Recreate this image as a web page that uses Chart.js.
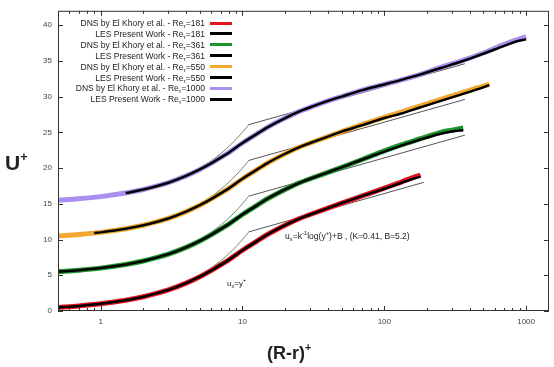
<!DOCTYPE html>
<html>
<head>
<meta charset="utf-8">
<script src="https://cdn.jsdelivr.net/npm/chart.js@4"></script>
<style>
  body { margin: 0; background: #fff; }
  #wrap { position: relative; width: 554px; height: 367px; font-family: "Liberation Sans", Arial, sans-serif; color: #222; }
  #chart { position: absolute; left: 0; top: 0; }
  .lab { position: absolute; white-space: nowrap; }
  .key { position: absolute; left: 0; width: 205px; text-align: right; font-size: 8.5px; line-height: 10px; }
  .swatch { position: absolute; left: 210px; width: 22px; }
  sub { font-size: 70%; vertical-align: -2px; line-height: 0; }
  sup { font-size: 70%; vertical-align: 4px; line-height: 0; }
</style>
</head>
<body>
<div id="wrap">
  <canvas id="chart" width="554" height="367"></canvas>
  <div id="legend"></div>
  <div class="lab" style="left:5px; top:152px; font-size:21px; font-weight:bold; line-height:22px;">U<sup style="font-size:60%; vertical-align:9px;">+</sup></div>
  <div class="lab" style="left:267px; top:342px; font-size:18px; font-weight:bold; line-height:22px;">(R-r)<sup style="font-size:60%; vertical-align:8px;">+</sup></div>
  <div class="lab" style="left:227px; top:279px; font-size:8px;">u<sub>x</sub>=y<sup>+</sup></div>
  <div class="lab" style="left:285px; top:231px; font-size:8.5px;">u<sub>x</sub>=k<sup>-1</sup>log(y<sup>+</sup>)+B , (K=0.41, B=5.2)</div>
</div>
<script>
// y+ positions and U+ values (curves already shifted by 0/5/10/15)
const yp181   = [0.5, 0.7, 1, 1.5, 2, 3, 4, 5, 6, 7, 8, 10, 12, 15, 20, 25, 30, 40, 50, 70, 100, 130, 160, 180];
const dns181  = [0.5, 0.7, 1.0, 1.5, 2.0, 2.95, 3.9, 4.8, 5.65, 6.45, 7.15, 8.5, 9.5, 10.7, 12.0, 12.9, 13.5, 14.4, 15.1, 16.1, 17.2, 18.0, 18.7, 19.0];
const les181  = [0.5, 0.7, 1.0, 1.5, 2.0, 2.95, 3.9, 4.8, 5.65, 6.45, 7.15, 8.5, 9.5, 10.7, 12.0, 12.9, 13.5, 14.4, 15.1, 16.1, 17.1, 17.9, 18.5, 18.8];

const yp361   = [0.5, 0.7, 1, 1.5, 2, 3, 4, 5, 6, 7, 8, 10, 12, 15, 20, 25, 30, 40, 50, 70, 100, 130, 180, 250, 300, 360];
const dns361  = [5.5, 5.7, 6.0, 6.5, 7.0, 7.95, 8.9, 9.8, 10.65, 11.45, 12.15, 13.5, 14.5, 15.7, 17.0, 17.9, 18.5, 19.4, 20.1, 21.2, 22.4, 23.2, 24.1, 25.0, 25.3, 25.6];
const les361  = [5.5, 5.7, 6.0, 6.5, 7.0, 7.95, 8.9, 9.8, 10.65, 11.45, 12.15, 13.5, 14.5, 15.7, 17.0, 17.9, 18.5, 19.4, 20.1, 21.2, 22.3, 23.1, 24.0, 24.8, 25.1, 25.3];

const yp550    = [0.5, 0.7, 1, 1.5, 2, 3, 4, 5, 6, 7, 8, 10, 12, 15, 20, 25, 30, 40, 50, 70, 100, 130, 180, 250, 350, 450, 550];
const dns550   = [10.5, 10.7, 11.0, 11.5, 12.0, 12.95, 13.9, 14.8, 15.65, 16.45, 17.15, 18.5, 19.5, 20.7, 22.0, 22.9, 23.5, 24.4, 25.1, 26.1, 27.1, 27.8, 28.7, 29.6, 30.5, 31.2, 31.7];
const ypLes550 = [0.9, 1, 1.5, 2, 3, 4, 5, 6, 7, 8, 10, 12, 15, 20, 25, 30, 40, 50, 70, 100, 130, 180, 250, 350, 450, 550];
const les550   = [10.9, 11.0, 11.5, 12.0, 12.95, 13.9, 14.8, 15.65, 16.45, 17.15, 18.5, 19.5, 20.7, 22.0, 22.9, 23.5, 24.4, 25.1, 26.0, 27.0, 27.6, 28.5, 29.4, 30.3, 31.0, 31.6];

const yp1000    = [0.5, 0.7, 1, 1.5, 2, 3, 4, 5, 6, 7, 8, 10, 12, 15, 20, 25, 30, 40, 50, 70, 100, 130, 180, 250, 350, 500, 700, 850, 1000];
const dns1000   = [15.5, 15.7, 16.0, 16.5, 17.0, 17.95, 18.9, 19.8, 20.65, 21.45, 22.15, 23.5, 24.5, 25.7, 27.0, 27.9, 28.5, 29.4, 30.0, 30.9, 31.7, 32.3, 33.1, 34.1, 35.0, 36.1, 37.3, 37.9, 38.4];
const ypLes1000 = [1.5, 2, 3, 4, 5, 6, 7, 8, 10, 12, 15, 20, 25, 30, 40, 50, 70, 100, 130, 180, 250, 350, 500, 700, 850, 1000];
const les1000   = [16.5, 17.0, 17.95, 18.9, 19.8, 20.65, 21.45, 22.15, 23.5, 24.5, 25.7, 27.0, 27.9, 28.5, 29.4, 30.0, 30.9, 31.7, 32.3, 33.1, 34.0, 34.9, 36.0, 37.1, 37.7, 38.0];

// wall-law reference lines (viscous sublayer and log layer), one per offset
const viscYp  = [4, 5, 6, 7, 8, 9, 10, 11];
const visc0   = [4, 5, 6, 7, 8, 9, 10, 11];
const visc5   = [9, 10, 11, 12, 13, 14, 15, 16];
const visc10  = [14, 15, 16, 17, 18, 19, 20, 21];
const visc15  = [19, 20, 21, 22, 23, 24, 25, 26];
const logYp181 = [11, 190];
const logYp    = [11, 370];
const log0   = [11.05, 18.0];
const log5   = [16.05, 24.6];
const log10  = [21.05, 29.6];
const log15  = [26.05, 34.6];

const xTicks  = [1, 10, 100, 1000];
const xMinor  = [0.6, 0.7, 0.8, 0.9, 2, 3, 4, 5, 6, 7, 8, 9, 20, 30, 40, 50, 60, 70, 80, 90, 200, 300, 400, 500, 600, 700, 800, 900];
const yTicks  = [0, 5, 10, 15, 20, 25, 30, 35, 40];

const legendLabels = [
  'DNS by El Khory et al. - Re<sub>τ</sub>=181', 'LES Present Work - Re<sub>τ</sub>=181',
  'DNS by El Khory et al. - Re<sub>τ</sub>=361', 'LES Present Work - Re<sub>τ</sub>=361',
  'DNS by El Khory et al. - Re<sub>τ</sub>=550', 'LES Present Work - Re<sub>τ</sub>=550',
  'DNS by El Khory et al. - Re<sub>τ</sub>=1000', 'LES Present Work - Re<sub>τ</sub>=1000'
];
const RED = '#e5141f', GREEN = '#1c962a', ORANGE = '#f3a82f', PURPLE = '#a98ff0', BLACK = '#000';
const legendColors = [RED, BLACK, GREEN, BLACK, ORANGE, BLACK, PURPLE, BLACK];

const FONT = '"Liberation Sans", Arial, sans-serif';
const pts = (xs, ys) => xs.map((x, i) => ({ x, y: ys[i] }));

const curve = (xs, ys, color, width, order) => ({
  data: pts(xs, ys), borderColor: color, borderWidth: width, pointRadius: 0,
  cubicInterpolationMode: 'monotone', fill: false, order
});
const thin = (xs, ys, color) => ({
  data: pts(xs, ys), borderColor: color, borderWidth: 1, pointRadius: 0, tension: 0, fill: false, order: 2
});

const datasets = [
  curve(yp181, les181, BLACK, 2.5, 0),
  curve(yp361, les361, BLACK, 2.5, 0),
  curve(ypLes550, les550, BLACK, 2.5, 0),
  curve(ypLes1000, les1000, BLACK, 2.5, 0),
  curve(yp181, dns181, RED, 5, 1),
  curve(yp361, dns361, GREEN, 5, 1),
  curve(yp550, dns550, ORANGE, 5, 1),
  curve(yp1000, dns1000, PURPLE, 5, 1),
  thin(viscYp, visc0, '#6f8f6f'), thin(viscYp, visc5, '#6f8f6f'),
  thin(viscYp, visc10, '#6f8f6f'), thin(viscYp, visc15, '#6f8f6f'),
  thin(logYp181, log0, '#555'), thin(logYp, log5, '#555'),
  thin(logYp, log10, '#555'), thin(logYp, log15, '#555')
];

// gnuplot style: closed frame with ticks pointing inward
const frameTicks = {
  id: 'frameTicks',
  afterDraw(chart) {
    const { ctx, chartArea: a, scales: { x, y } } = chart;
    ctx.save();
    ctx.strokeStyle = '#333';
    ctx.lineWidth = 1;
    ctx.strokeRect(a.left + 0.5, a.top + 0.5, a.right - a.left - 1, a.bottom - a.top - 1);
    ctx.beginPath();
    yTicks.forEach(v => {
      const py = Math.round(y.getPixelForValue(v)) + 0.5;
      ctx.moveTo(a.left, py); ctx.lineTo(a.left + 5, py);
      ctx.moveTo(a.right, py); ctx.lineTo(a.right - 5, py);
    });
    const xMark = (v, len) => {
      const px = Math.round(x.getPixelForValue(v)) + 0.5;
      ctx.moveTo(px, a.bottom); ctx.lineTo(px, a.bottom - len);
      ctx.moveTo(px, a.top); ctx.lineTo(px, a.top + len);
    };
    xTicks.forEach(v => xMark(v, 5));
    xMinor.forEach(v => xMark(v, 3));
    ctx.stroke();
    ctx.restore();
  }
};

new Chart(document.getElementById('chart'), {
  type: 'line',
  data: { datasets },
  options: {
    responsive: false,
    animation: false,
    layout: { padding: { left: 0, right: 5, top: 3, bottom: 0 } },
    plugins: { legend: { display: false }, tooltip: { enabled: false } },
    scales: {
      x: {
        type: 'logarithmic', min: 0.5, max: 1450,
        grid: { display: false, drawTicks: false }, border: { display: false },
        ticks: { color: '#444', font: { family: FONT, size: 8 }, padding: 6, maxRotation: 0, autoSkip: false, callback: v => String(v) },
        afterBuildTicks: s => { s.ticks = xTicks.map(v => ({ value: v })); },
        afterFit: s => { s.height = 56; }
      },
      y: {
        min: 0, max: 42,
        grid: { display: false, drawTicks: false }, border: { display: false },
        ticks: { color: '#444', font: { family: FONT, size: 8 }, padding: 6 },
        afterBuildTicks: s => { s.ticks = yTicks.map(v => ({ value: v })); },
        afterFit: s => { s.width = 58; }
      }
    }
  },
  plugins: [frameTicks]
});

// legend box in the upper left, text right-aligned with the line sample after it
const legend = document.getElementById('legend');
legendLabels.forEach((txt, i) => {
  const cy = 23 + i * 10.9;
  const row = document.createElement('div');
  row.className = 'key';
  row.style.top = (cy - 5) + 'px';
  row.innerHTML = txt;
  legend.appendChild(row);
  const sw = document.createElement('div');
  sw.className = 'swatch';
  sw.style.top = (cy - 1.5) + 'px';
  sw.style.height = '3px';
  sw.style.background = legendColors[i];
  legend.appendChild(sw);
});
</script>
</body>
</html>
